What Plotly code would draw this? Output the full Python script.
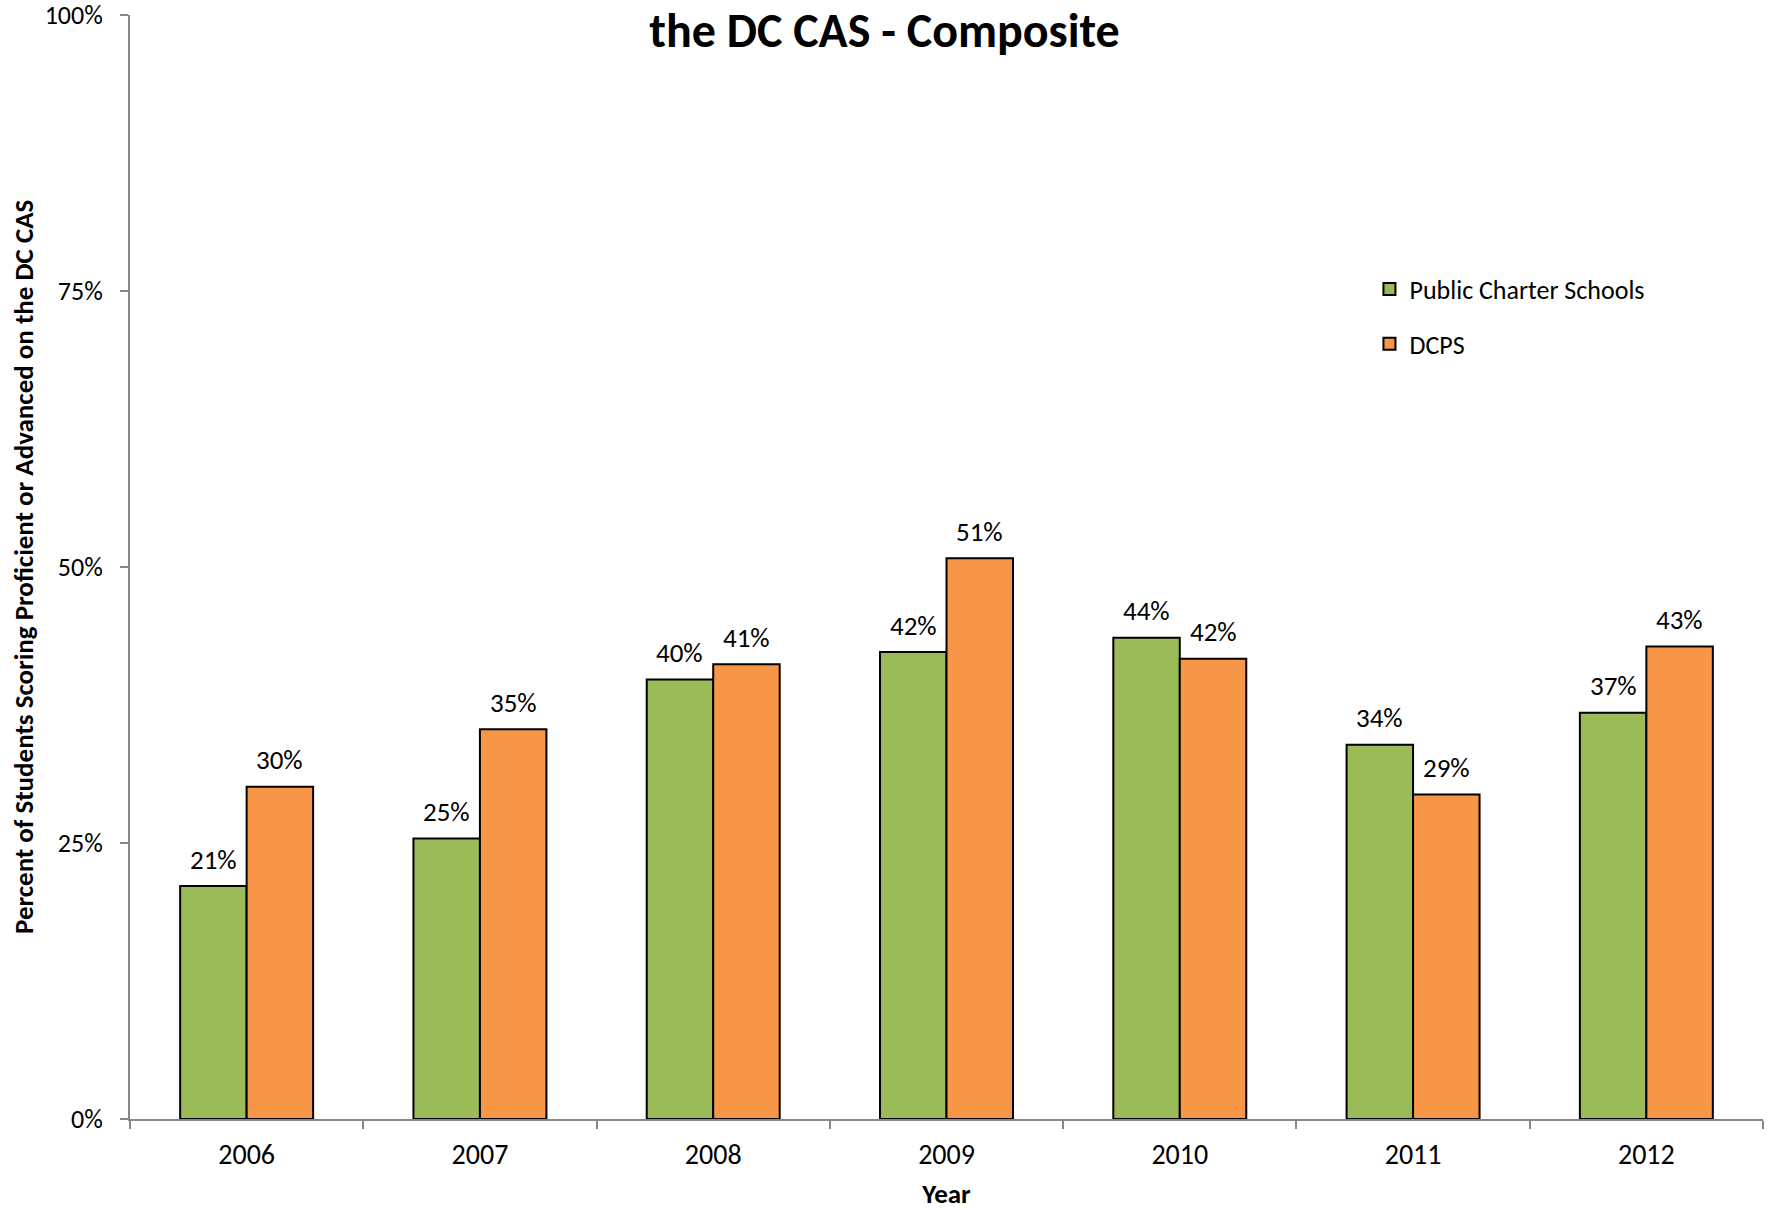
import plotly.graph_objects as go

years = ["2006", "2007", "2008", "2009", "2010", "2011", "2012"]
charter = [21.1, 25.4, 39.8, 42.3, 43.6, 33.9, 36.8]
dcps = [30.1, 35.3, 41.2, 50.8, 41.7, 29.4, 42.8]
y_tickvals = [0, 25, 50, 75, 100]
y_ticktext = ["0%", "25%", "50%", "75%", "100%"]
y_title = "Percent of Students Scoring Proficient or Advanced on the DC CAS"

FONT = "Carlito, Lato, sans-serif"
BARGAP = 0.43
ML, MR, MT, MB = 130, 6, 15, 91
W, H = 1769, 1210

fig = go.Figure()
fig.add_trace(go.Bar(
    x=years, y=charter, name="Public Charter Schools", legendgroup="a",
    marker=dict(color="#9BBB59", line=dict(color="black", width=2)),
))
fig.add_trace(go.Bar(
    x=years, y=dcps, name="DCPS", legendgroup="b",
    marker=dict(color="#F79646", line=dict(color="black", width=2)),
))

# data labels above each bar (anchored at category index / data value, shifted to bar centre)
cat_px = (W - ML - MR) / len(years)
bar_px = cat_px * (1 - BARGAP) / 2
for series, side in ((charter, -1), (dcps, 1)):
    for i, v in enumerate(series):
        fig.add_annotation(
            x=i, y=v, xref="x", yref="y", text=f"{v:.0f}%", showarrow=False,
            xshift=side * bar_px / 2, yshift=27, yanchor="middle",
            font=dict(size=27, family=FONT, color="black"),
        )

# y-axis title
fig.add_annotation(
    x=(23 - ML) / (W - ML - MR), y=0.5, xref="paper", yref="paper",
    text=f"<b>{y_title}</b>", textangle=-90, showarrow=False,
    xanchor="center", yanchor="middle",
    font=dict(size=27, family=FONT, color="black"),
)

fig.update_layout(
    width=W, height=H,
    margin=dict(l=ML, r=MR, t=MT, b=MB, autoexpand=False),
    paper_bgcolor="white", plot_bgcolor="white",
    font=dict(family=FONT, size=24, color="black"),
    barmode="group", bargap=BARGAP, bargroupgap=0,
    showlegend=True,
    legend=dict(x=0.759, y=0.773, xanchor="left", yanchor="top",
                font=dict(size=26, family=FONT), tracegroupgap=18,
                bgcolor="rgba(0,0,0,0)"),
    title=dict(text="<b>the DC CAS - Composite</b>", x=0.5, xanchor="center",
               xref="container", yref="container",
               y=0.975, yanchor="middle",
               font=dict(size=48, family=FONT, color="black")),
)
fig.update_xaxes(
    type="category", categoryorder="array", categoryarray=years,
    range=[-0.5, len(years) - 0.5], automargin=False,
    showline=True, linecolor="#868686", linewidth=2,
    ticks="outside", tickson="boundaries", ticklen=8, tickcolor="#868686", tickwidth=2,
    ticklabelstandoff=9,
    showgrid=False,
    title=dict(text="<b>Year</b>", font=dict(size=27, family=FONT), standoff=17),
    tickfont=dict(size=28, family=FONT),
)
fig.update_yaxes(
    automargin=False,
    range=[0, 100], tickmode="array", tickvals=y_tickvals, ticktext=y_ticktext,
    showline=True, linecolor="#868686", linewidth=2,
    ticks="outside", ticklen=8, tickcolor="#868686", tickwidth=2,
    ticklabelstandoff=12, ticklabeloverflow="allow",
    showgrid=False, zeroline=False,
    tickfont=dict(size=26, family=FONT),
)

fig.write_html("out.html", config={"displayModeBar": False},
               post_script="document.body.style.margin='0';")
